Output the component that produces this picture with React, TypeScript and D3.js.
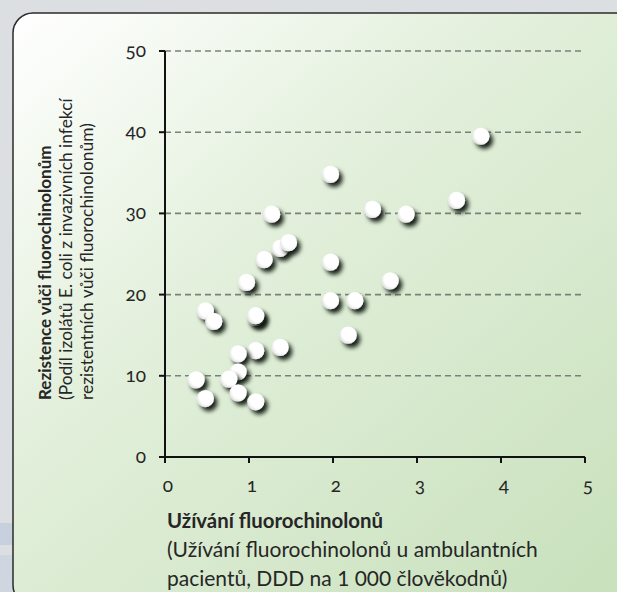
import { useEffect, useRef } from "react"
import * as d3 from "d3"

// usage of fluoroquinolones (DDD per 1000 inhabitants/day) vs. resistance (%)
const usage = [
  1.97, 1.27, 2.47, 2.87, 3.76, 3.47, 1.37, 1.47, 1.18, 1.97, 0.97, 2.68, 1.97, 2.26,
  0.48, 0.58, 1.08, 1.08, 2.18, 1.08, 0.87, 1.37, 0.87, 0.76, 0.37, 0.48, 0.87, 1.08,
]
const resistance = [
  34.8, 29.9, 30.5, 29.9, 39.5, 31.6, 25.7, 26.4, 24.3, 24.0, 21.5, 21.7, 19.25, 19.25,
  18.0, 16.7, 17.2, 17.4, 15.0, 13.1, 12.7, 13.5, 10.5, 9.6, 9.5, 7.2, 7.9, 6.8,
]

const xTicks = [0, 1, 2, 3, 4, 5]
const yTicks = [0, 10, 20, 30, 40, 50]
const yGrid = [10, 20, 30, 40, 50]

const yTitle = [
  "Rezistence vůči fluorochinolonům",
  "(Podíl izolátů E. coli z invazivních infekcí",
  "rezistentních vůči fluorochinolonům)",
]
const xTitle = [
  "Užívání fluorochinolonů",
  "(Užívání fluorochinolonů u ambulantních",
  "pacientů, DDD na 1 000 člověkodnů)",
]

const W = 617
const H = 592
const FONT = "Lato, 'Open Sans', sans-serif"
const INK = "#262626"

export default function App() {
  const ref = useRef<SVGSVGElement>(null)

  useEffect(() => {
    if (!ref.current) return
    const svg = d3.select(ref.current)
    svg.selectAll("*").remove()

    const x = d3.scaleLinear().domain([0, 5]).range([165, 585])
    const y = d3.scaleLinear().domain([0, 50]).range([457, 51])

    const defs = svg.append("defs")
    const bg = defs
      .append("linearGradient")
      .attr("id", "panel-bg")
      .attr("x1", 0)
      .attr("y1", 0)
      .attr("x2", 0.9)
      .attr("y2", 1)
    bg.append("stop").attr("offset", "0%").attr("stop-color", "#ffffff")
    bg.append("stop").attr("offset", "40%").attr("stop-color", "#e3f0dc")
    bg.append("stop").attr("offset", "100%").attr("stop-color", "#c9e1bd")

    const dot = defs.append("radialGradient").attr("id", "dot-fill").attr("cx", "62%").attr("cy", "38%").attr("r", "65%")
    dot.append("stop").attr("offset", "0%").attr("stop-color", "#ffffff")
    dot.append("stop").attr("offset", "70%").attr("stop-color", "#ffffff")
    dot.append("stop").attr("offset", "100%").attr("stop-color", "#e4e4e4")

    const shadow = defs
      .append("filter")
      .attr("id", "dot-shadow")
      .attr("x", "-50%")
      .attr("y", "-50%")
      .attr("width", "220%")
      .attr("height", "220%")
    shadow
      .append("feDropShadow")
      .attr("dx", 3.5)
      .attr("dy", 4)
      .attr("stdDeviation", 2.2)
      .attr("flood-color", "#10180c")
      .attr("flood-opacity", 0.95)

    // page background + left strip
    svg.append("rect").attr("width", W).attr("height", H).attr("fill", "#dcdfe2")
    svg.append("rect").attr("x", 0).attr("y", 523).attr("width", 20).attr("height", 22).attr("fill", "#c6d1dd")
    svg.append("rect").attr("x", 0).attr("y", 555).attr("width", 20).attr("height", 37).attr("fill", "#ced7e0")

    // rounded panel, cut off at right and bottom
    svg
      .append("rect")
      .attr("x", 13)
      .attr("y", 13)
      .attr("width", 624)
      .attr("height", 592)
      .attr("rx", 20)
      .attr("fill", "url(#panel-bg)")
      .attr("stroke", "#2b2b2b")
      .attr("stroke-width", 1.5)

    // dashed grid
    svg
      .append("g")
      .selectAll("line")
      .data(yGrid)
      .join("line")
      .attr("x1", x(0))
      .attr("x2", x(5))
      .attr("y1", (d) => y(d))
      .attr("y2", (d) => y(d))
      .attr("stroke", "#7b8178")
      .attr("stroke-width", 1.6)
      .attr("stroke-dasharray", "6,4")

    // axes
    const axes = svg.append("g").attr("stroke", "#111").attr("stroke-width", 2)
    axes.append("line").attr("x1", x(0)).attr("x2", x(0)).attr("y1", y(50)).attr("y2", y(0))
    axes.append("line").attr("x1", x(0) - 6).attr("x2", x(5)).attr("y1", y(0)).attr("y2", y(0))
    axes
      .selectAll(".yt")
      .data(yTicks)
      .join("line")
      .attr("x1", x(0) - 6)
      .attr("x2", x(0))
      .attr("y1", (d) => y(d))
      .attr("y2", (d) => y(d))
    axes
      .selectAll(".xt")
      .data(xTicks)
      .join("line")
      .attr("x1", (d) => x(d))
      .attr("x2", (d) => x(d))
      .attr("y1", y(0))
      .attr("y2", y(0) + 6)

    const labels = svg.append("g").attr("font-family", FONT).attr("fill", INK)
    labels
      .selectAll(".yl")
      .data(yTicks)
      .join("text")
      .attr("x", x(0) - 19)
      .attr("y", (d) => y(d))
      .attr("dy", "0.32em")
      .attr("text-anchor", "end")
      .attr("font-size", 19)
      .style("font-variant-numeric", "oldstyle-nums")
      .text((d) => d)
    labels
      .selectAll(".xl")
      .data(xTicks)
      .join("text")
      .attr("x", (d) => x(d) + 3)
      .attr("y", 492)
      .attr("text-anchor", "middle")
      .attr("font-size", 19)
      .style("font-variant-numeric", "oldstyle-nums")
      .text((d) => d)

    // axis titles
    const yt = labels.append("g").attr("transform", "translate(0,400) rotate(-90)")
    yTitle.forEach((t, i) => {
      yt.append("text")
        .attr("x", 0)
        .attr("y", 51 + i * 21)
        .attr("font-size", i === 0 ? 17 : 17.4)
        .attr("font-weight", i === 0 ? 700 : 400)
        .text(t)
    })
    xTitle.forEach((t, i) => {
      labels
        .append("text")
        .attr("x", 167)
        .attr("y", 528 + i * 29)
        .attr("font-size", i === 0 ? 20.4 : 21)
        .attr("font-weight", i === 0 ? 700 : 400)
        .text(t)
    })

    // points
    svg
      .append("g")
      .selectAll("circle")
      .data(d3.range(usage.length))
      .join("circle")
      .attr("cx", (i) => x(usage[i]))
      .attr("cy", (i) => y(resistance[i]))
      .attr("r", 8.6)
      .attr("fill", "url(#dot-fill)")
      .attr("filter", "url(#dot-shadow)")
  }, [])

  return (
    <svg
      ref={ref}
      width={W}
      height={H}
      viewBox={`0 0 ${W} ${H}`}
      style={{ position: "absolute", left: 0, top: 0, display: "block" }}
    />
  )
}
